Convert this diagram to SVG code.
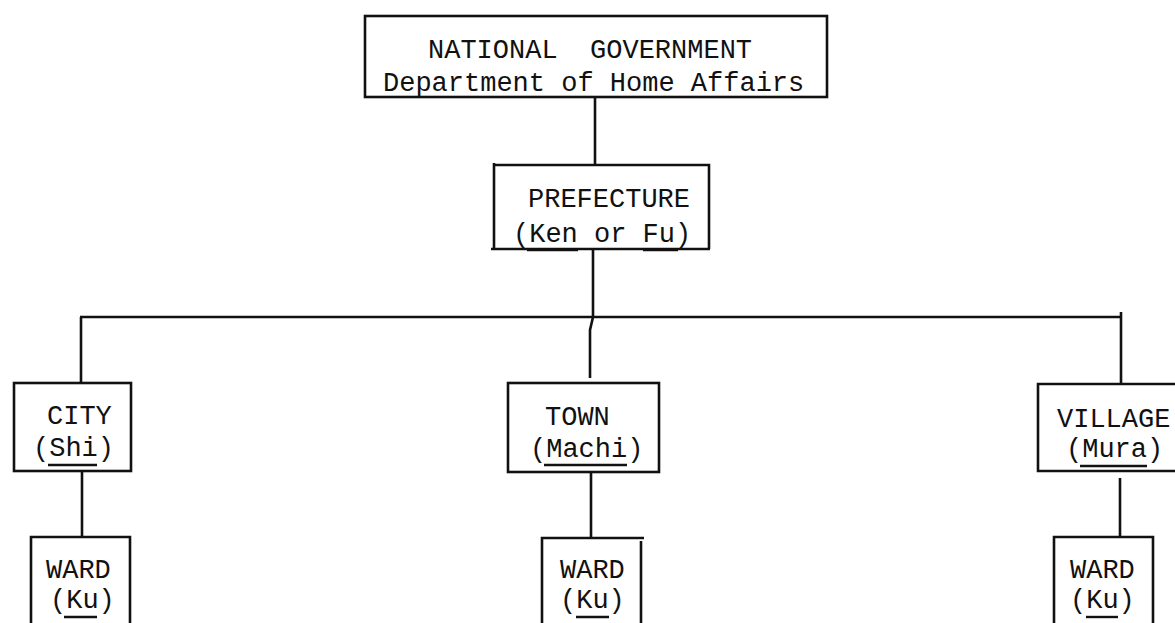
<svg xmlns="http://www.w3.org/2000/svg" width="1175" height="623" viewBox="0 0 1175 623">
<style>
  .box { fill: none; stroke: #111; stroke-width: 2.6; }
  .conn { fill: none; stroke: #111; stroke-width: 2.6; }
  .ul { stroke: #111; stroke-width: 2.4; }
  text { font-family: "Liberation Mono", "Courier New", monospace; font-size: 27px; fill: #111; }
</style>
<rect width="1175" height="623" fill="#ffffff"/>
<g id="connectors">
  <line class="conn" x1="595" y1="97" x2="595" y2="165"/>
  <path class="conn" d="M593,249 L593,317 L590,330 L590,378"/>
  <line class="conn" x1="80" y1="317" x2="1121" y2="317" stroke-width="3.2"/>
  <line class="conn" x1="81" y1="317" x2="81" y2="383"/>
  <line class="conn" x1="1121" y1="312" x2="1121" y2="384"/>
  <line class="conn" x1="82" y1="471" x2="82" y2="537"/>
  <line class="conn" x1="591" y1="472" x2="591" y2="538"/>
  <line class="conn" x1="1120" y1="478" x2="1120" y2="537"/>
</g>
<g id="national">
  <rect class="box" x="365" y="16" width="462" height="81"/>
  <text x="428" y="58" xml:space="preserve">NATIONAL  GOVERNMENT</text>
  <text x="383" y="91">Department of Home Affairs</text>
</g>
<g id="prefecture">
  <path class="box" d="M494,165 L709,165 L709,249 M494,163 L494,249 M491,249 L710,249"/>
  <text x="528" y="207">PREFECTURE</text>
  <text x="513" y="242">(Ken or Fu)</text>
  <line class="ul" x1="527" y1="250" x2="578" y2="250" stroke-width="3.4"/>
  <line class="ul" x1="643" y1="250" x2="678" y2="250" stroke-width="3.4"/>
</g>
<g id="city">
  <rect class="box" x="14" y="383" width="117" height="88"/>
  <text x="47" y="424">CITY</text>
  <text x="33" y="456">(Shi)</text>
  <line class="ul" x1="48" y1="465" x2="97" y2="465"/>
</g>
<g id="town">
  <rect class="box" x="508" y="383" width="151" height="89"/>
  <text x="545" y="425">TOWN</text>
  <text x="530" y="457">(Machi)</text>
  <line class="ul" x1="544" y1="465" x2="627" y2="465"/>
</g>
<g id="village">
  <path class="box" d="M1175,384 L1038,384 L1038,471 L1175,471"/>
  <text x="1057" y="427">VILLAGE</text>
  <text x="1066" y="457">(Mura)</text>
  <line class="ul" x1="1080" y1="466" x2="1147" y2="466"/>
</g>
<g id="ward-city">
  <path class="box" d="M31,623 L31,537 L130,537 L130,623"/>
  <text x="46" y="578">WARD</text>
  <text x="50" y="608">(Ku)</text>
  <line class="ul" x1="64" y1="617" x2="97" y2="617"/>
</g>
<g id="ward-town">
  <path class="box" d="M542,623 L542,538 L644,538 M641,541 L641,623"/>
  <text x="560" y="578">WARD</text>
  <text x="560" y="608">(Ku)</text>
  <line class="ul" x1="576" y1="617" x2="609" y2="617"/>
</g>
<g id="ward-village">
  <path class="box" d="M1054,623 L1054,537 L1153,537 L1153,623"/>
  <text x="1070" y="578">WARD</text>
  <text x="1070" y="608">(Ku)</text>
  <line class="ul" x1="1086" y1="617" x2="1118" y2="617"/>
</g>
</svg>
